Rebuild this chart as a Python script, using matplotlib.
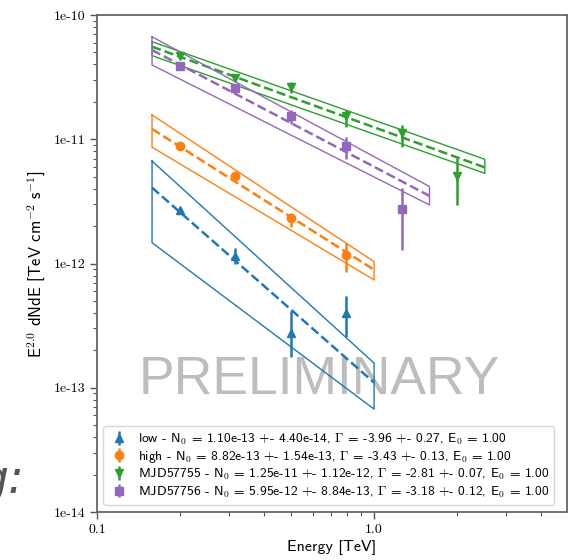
import matplotlib
matplotlib.use("Agg")
import matplotlib.pyplot as plt

plt.rcParams["mathtext.fontset"] = "cm"
plt.rcParams["axes.unicode_minus"] = False

# flux points (E^2 dN/dE), energies in TeV
low_E = [0.2, 0.316, 0.5, 0.79]
low_F = [2.70e-12, 1.14e-12, 2.78e-13, 4.03e-13]
low_lo = [2.60e-12, 1.00e-12, 1.78e-13, 2.57e-13]
low_hi = [2.82e-12, 1.33e-12, 4.16e-13, 5.48e-13]

high_E = [0.2, 0.316, 0.5, 0.79]
high_F = [8.89e-12, 5.07e-12, 2.31e-12, 1.16e-12]
high_lo = [8.2e-12, 4.65e-12, 1.97e-12, 8.61e-13]
high_hi = [9.57e-12, 5.5e-12, 2.55e-12, 1.47e-12]

g55_E = [0.2, 0.316, 0.5, 0.79, 1.26, 2.0]
g55_F = [4.71e-11, 3.13e-11, 2.65e-11, 1.53e-11, 1.12e-11, 5.02e-12]
g55_lo = [4.5e-11, 2.95e-11, 2.35e-11, 1.26e-11, 8.71e-12, 2.96e-12]
g55_hi = [4.95e-11, 3.32e-11, 2.91e-11, 1.72e-11, 1.30e-11, 7.03e-12]

p56_E = [0.2, 0.316, 0.5, 0.79, 1.26]
p56_F = [3.91e-11, 2.57e-11, 1.53e-11, 8.79e-12, 2.76e-12]
p56_lo = [3.7e-11, 2.4e-11, 1.33e-11, 6.90e-12, 1.29e-12]
p56_hi = [4.15e-11, 2.77e-11, 1.72e-11, 1.05e-11, 4.04e-12]

# model bands: [left, right] ends
low_bx = [0.158, 1.0]
low_top = [6.68e-12, 1.58e-13]
low_bot = [1.47e-12, 6.73e-14]
low_mid = [4.08e-12, 1.10e-13]

high_bx = [0.158, 1.0]
high_top = [1.57e-11, 1.035e-12]
high_bot = [8.63e-12, 7.38e-13]
high_mid = [1.21e-11, 8.9e-13]

g55_bx = [0.158, 2.51]
g55_top = [6.1e-11, 6.90e-12]
g55_bot = [4.71e-11, 5.32e-12]
g55_mid = [5.56e-11, 5.93e-12]

p56_bx = [0.158, 1.585]
p56_top = [6.68e-11, 4.16e-12]
p56_bot = [3.96e-11, 2.96e-12]
p56_mid = [5.23e-11, 3.50e-12]

labels = [
    r"low - N$_0$ = 1.10e-13 +- 4.40e-14, $\Gamma$ = -3.96 +- 0.27, E$_0$ = 1.00",
    r"high - N$_0$ = 8.82e-13 +- 1.54e-13, $\Gamma$ = -3.43 +- 0.13, E$_0$ = 1.00",
    r"MJD57755 - N$_0$ = 1.25e-11 +- 1.12e-12, $\Gamma$ = -2.81 +- 0.07, E$_0$ = 1.00",
    r"MJD57756 - N$_0$ = 5.95e-12 +- 8.84e-13, $\Gamma$ = -3.18 +- 0.12, E$_0$ = 1.00",
]

yticks = [1e-14, 1e-13, 1e-12, 1e-11, 1e-10]
ytick_labels = ["1e-14", "1e-13", "1e-12", "1e-11", "1e-10"]
xticks = [0.1, 1.0]
xtick_labels = ["0.1", "1.0"]

fig = plt.figure(figsize=(5.72, 5.6), dpi=100)
ax = fig.add_axes([0.1696, 0.0857, 0.8217, 0.8875])
ax.set_xscale("log")
ax.set_yscale("log")

series = [
    (low_E, low_F, low_lo, low_hi, low_bx, low_top, low_bot, low_mid, "C0", "^"),
    (high_E, high_F, high_lo, high_hi, high_bx, high_top, high_bot, high_mid, "C1", "o"),
    (g55_E, g55_F, g55_lo, g55_hi, g55_bx, g55_top, g55_bot, g55_mid, "C2", "v"),
    (p56_E, p56_F, p56_lo, p56_hi, p56_bx, p56_top, p56_bot, p56_mid, "C4", "s"),
]

for (E, F, lo, hi, bx, top, bot, mid, c, m), lab in zip(series, labels):
    yerr = [[f - l for f, l in zip(F, lo)], [h - f for f, h in zip(F, hi)]]
    ax.errorbar(E, F, yerr=yerr, fmt=m, color=c, ms=6, elinewidth=1.8,
                capsize=0, label=lab, zorder=3)
    bxs = [bx[0], bx[1], bx[1], bx[0], bx[0]]
    bys = [top[0], top[1], bot[1], bot[0], top[0]]
    ax.plot(bxs, bys, color=c, lw=1.0, zorder=2)
    ax.plot(bx, mid, color=c, lw=1.8, ls="--", zorder=2)

ax.text(0.474, 0.266, "PRELIMINARY", transform=ax.transAxes, fontsize=38.5,
        family="Liberation Sans", color="#bdbdbd", ha="center", va="center",
        zorder=1)

ax.set_xlim(0.1, 4.97)
ax.set_ylim(1e-14, 1e-10)
ax.set_yticks(yticks)
ax.set_yticklabels(ytick_labels, family="cmr10", fontsize=10)
ax.set_xticks(xticks)
ax.set_xticklabels(xtick_labels, family="cmr10", fontsize=10)
ax.tick_params(which="major", length=5, width=1, color="#555555")
ax.tick_params(which="minor", length=3, width=0.8, color="#555555")
for s in ax.spines.values():
    s.set_color("#666666")
    s.set_linewidth(1.3)

ax.set_xlabel("Energy [TeV]", family="cmss10", fontsize=11.5, labelpad=3)
ax.set_ylabel(r"E$^{2.0}$ dNdE [TeV cm$^{-2}$ s$^{-1}$]", family="cmss10",
              fontsize=12, labelpad=4)

leg = ax.legend(loc="lower left", bbox_to_anchor=(0.0128, 0.014),
                borderaxespad=0, prop={"family": "cmss10", "size": 9.75},
                handletextpad=0.55, handlelength=1.6, borderpad=0.4,
                labelspacing=0.15, framealpha=0.8)
leg.get_frame().set_edgecolor("#cccccc")

fig.text(0.042, 0.12, "g:", fontsize=34, style="italic", color="#555555",
         ha="right", va="baseline")

fig.savefig("out.png", dpi=100)
